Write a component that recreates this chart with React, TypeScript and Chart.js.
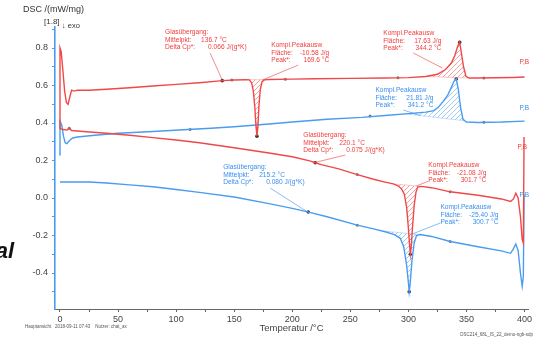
import React, { useEffect, useRef } from 'react';
import { Chart, registerables } from 'chart.js';
Chart.register(...registerables);

const RED = '#f04848';
const BLUE = '#4a9cf0';
const RED_TXT = '#f23c3c';
const BLUE_TXT = '#3a8ff0';
const FONT = '"Liberation Sans", Arial, sans-serif';

// Red curve, upper segment
const redUpperTemp = [-0.6, 0, 1, 2.5, 4, 5.5, 7, 8.5, 10, 12, 15, 25, 40, 60, 80, 100, 120, 140, 150, 160, 163, 165, 166.5, 167.8, 168.8, 169.6, 170.4, 171.3, 172.5, 174, 176, 180, 200, 220, 250, 280, 300, 315, 325, 332, 337, 340, 342.5, 344.2, 345.5, 347.5, 349.5, 352, 360, 375, 390, 400];
const redUpperDsc = [0.37, 0.80, 0.78, 0.68, 0.57, 0.51, 0.50, 0.54, 0.575, 0.57, 0.575, 0.575, 0.58, 0.588, 0.597, 0.606, 0.615, 0.626, 0.629, 0.631, 0.63, 0.615, 0.57, 0.48, 0.38, 0.33, 0.38, 0.49, 0.58, 0.62, 0.63, 0.632, 0.634, 0.636, 0.638, 0.64, 0.642, 0.648, 0.66, 0.685, 0.72, 0.76, 0.81, 0.83, 0.78, 0.70, 0.65, 0.64, 0.64, 0.641, 0.643, 0.645];

// Red curve, lower segment
const redLowerTemp = [0, 3, 6, 8, 10, 20, 40, 60, 80, 100, 120, 150, 180, 200, 215, 220, 225, 240, 256, 270, 280, 287, 291, 294, 296.5, 298.5, 300, 301, 301.7, 302.5, 303.5, 305, 306.5, 308, 311, 320, 336, 360, 380, 388, 390.5, 392.5, 394.5, 396.5, 398, 399, 399.6];
const redLowerDsc = [0.37, 0.365, 0.362, 0.372, 0.36, 0.355, 0.345, 0.335, 0.322, 0.309, 0.295, 0.268, 0.24, 0.22, 0.198, 0.188, 0.178, 0.155, 0.125, 0.1, 0.085, 0.075, 0.065, 0.05, 0.02, -0.05, -0.16, -0.25, -0.30, -0.26, -0.16, -0.04, 0.03, 0.058, 0.062, 0.055, 0.033, 0.015, -0.005, -0.018, -0.005, 0.025, 0.0, -0.1, -0.22, -0.24, 0.325];

// Blue curve, upper segment
const blueUpperTemp = [-0.8, 0, 1.5, 3, 4.5, 6, 8, 11, 15, 30, 50, 80, 110, 130, 150, 180, 200, 230, 260, 280, 300, 315, 322, 326, 330, 334, 337, 339.5, 341.2, 343, 345, 347, 350, 360, 380, 400];
const blueUpperDsc = [0.23, 0.41, 0.39, 0.33, 0.295, 0.29, 0.305, 0.32, 0.325, 0.335, 0.345, 0.355, 0.365, 0.372, 0.38, 0.395, 0.405, 0.42, 0.43, 0.44, 0.45, 0.458, 0.466, 0.485, 0.515, 0.55, 0.59, 0.625, 0.635, 0.58, 0.48, 0.42, 0.405, 0.403, 0.405, 0.41];

// Blue curve, lower segment
const blueLowerTemp = [0, 10, 25, 40, 60, 80, 100, 120, 150, 180, 200, 215, 230, 256, 270, 280, 288, 293, 296, 298.5, 300, 300.7, 301.5, 303, 305, 307, 310, 320, 336, 360, 380, 388, 390.5, 392.5, 394.5, 396.5, 398, 399, 399.6];
const blueLowerDsc = [0.085, 0.085, 0.085, 0.08, 0.07, 0.06, 0.045, 0.03, 0.005, -0.03, -0.055, -0.077, -0.1, -0.145, -0.165, -0.18, -0.195, -0.215, -0.26, -0.36, -0.45, -0.50, -0.46, -0.34, -0.24, -0.2, -0.195, -0.205, -0.232, -0.26, -0.282, -0.295, -0.27, -0.245, -0.28, -0.4, -0.47, -0.42, 0.02];

// Peak integration baselines (null = gap)
const redUpperBaseTemp = [161, 177, 250, 316, 351];
const redUpperBaseDsc = [0.631, 0.631, null, 0.648, 0.64];
const redLowerBaseTemp = [287, 311];
const redLowerBaseDsc = [0.075, 0.062];
const blueUpperBaseTemp = [296, 348];
const blueUpperBaseDsc = [0.45, 0.412];
const blueLowerBaseTemp = [276, 312];
const blueLowerBaseDsc = [-0.175, -0.196];

// Evaluation markers
const markDarkTemp = [139.7, 169.6, 344.2, 341.2, 219.8, 213.8, 301.7, 300.7];
const markDarkDsc = [0.626, 0.33, 0.83, 0.635, 0.188, -0.075, -0.30, -0.50];
const markLightTemp = [148, 194, 291, 365, 112, 267, 365, 256, 336, 256, 336, 8];
const markLightDsc = [0.629, 0.633, 0.641, 0.64, 0.366, 0.437, 0.404, 0.125, 0.033, -0.145, -0.232, 0.372];

// Axis range
const xMin = -4.3, xMax = 403;
const yMin = -0.592, yMax = 0.912;

type Ann = { color: string; t: number; v: number; lines: string[][]; glass: boolean; leader: number[][] };
const annotations: Ann[] = [
  { color: RED_TXT, t: 90.5, v: 0.885, glass: true, lines: [['Glasübergang:', ''], ['Mittelpkt:', '136.7 °C'], ['Delta Cp*:', '0.066 J/(g*K)']], leader: [[129.3, 0.773], [139.7, 0.629]] },
  { color: RED_TXT, t: 181.9, v: 0.816, glass: false, lines: [['Kompl.Peakausw', ''], ['Fläche:', '-10.58 J/g'], ['Peak*:', '169.6 °C']], leader: [[205.2, 0.709], [174.1, 0.629]] },
  { color: RED_TXT, t: 278.4, v: 0.88, glass: false, lines: [['Kompl.Peakausw', ''], ['Fläche:', '17.63 J/g'], ['Peak*:', '344.2 °C']], leader: [[304.3, 0.773], [329.3, 0.693]] },
  { color: BLUE_TXT, t: 271.6, v: 0.576, glass: false, lines: [['Kompl.Peakausw', ''], ['Fläche:', '21.81 J/g'], ['Peak*:', '341.2 °C']], leader: [[295.7, 0.469], [310.3, 0.44]] },
  { color: RED_TXT, t: 209.5, v: 0.336, glass: true, lines: [['Glasübergang:', ''], ['Mittelpkt:', '220.1 °C'], ['Delta Cp*:', '0.075 J/(g*K)']], leader: [[245.7, 0.229], [219.8, 0.19]] },
  { color: BLUE_TXT, t: 140.5, v: 0.165, glass: true, lines: [['Glasübergang:', ''], ['Mittelpkt:', '215.2 °C'], ['Delta Cp*:', '0.080 J/(g*K)']], leader: [[181, 0.053], [213.8, -0.077]] },
  { color: RED_TXT, t: 317.2, v: 0.176, glass: false, lines: [['Kompl.Peakausw', ''], ['Fläche:', '-21.08 J/g'], ['Peak*:', '301.7 °C']], leader: [[317.2, 0.09], [306.9, 0.064]] },
  { color: BLUE_TXT, t: 327.6, v: -0.048, glass: false, lines: [['Kompl.Peakausw', ''], ['Fläche:', '-25.40 J/g'], ['Peak*:', '300.7 °C']], leader: [[327.6, -0.133], [303.4, -0.192]] },
];

const segLabels = [
  { color: RED_TXT, t: 395.7, v: 0.725, text: 'P,B' },
  { color: BLUE_TXT, t: 395.7, v: 0.48, text: 'P,B' },
  { color: RED_TXT, t: 394, v: 0.272, text: 'P,B' },
  { color: BLUE_TXT, t: 395.7, v: 0.016, text: 'P,B' },
];

const pts = (xs: number[], ys: (number | null)[]) => xs.map((x, i) => ({ x, y: ys[i] }));

function hatch(color: string) {
  const c = document.createElement('canvas');
  c.width = 5; c.height = 5;
  const g = c.getContext('2d')!;
  g.strokeStyle = color; g.lineWidth = 0.7;
  g.beginPath();
  g.moveTo(0, 5); g.lineTo(5, 0);
  g.moveTo(-1, 1); g.lineTo(1, -1);
  g.moveTo(4, 6); g.lineTo(6, 4);
  g.stroke();
  return g.createPattern(c, 'repeat')!;
}

const overlay = {
  id: 'overlay',
  afterDraw(chart: any) {
    const { ctx } = chart;
    const x = chart.scales.x, y = chart.scales.y;
    ctx.save();
    for (const a of annotations) {
      const px = x.getPixelForValue(a.t), py = y.getPixelForValue(a.v);
      ctx.fillStyle = a.color;
      ctx.font = `6.6px ${FONT}`;
      ctx.textBaseline = 'middle';
      a.lines.forEach(([lab, val], i) => {
        const ly = py + i * 7.8;
        ctx.textAlign = 'left';
        ctx.fillText(lab, px, ly);
        if (val) {
          if (a.glass) {
            ctx.fillText(val, px + (i === 1 ? 36 : 43), ly);
          } else {
            ctx.textAlign = 'right';
            ctx.fillText(val, px + 58, ly);
          }
        }
      });
      ctx.strokeStyle = a.color;
      ctx.lineWidth = 0.6;
      ctx.beginPath();
      ctx.moveTo(x.getPixelForValue(a.leader[0][0]), y.getPixelForValue(a.leader[0][1]));
      ctx.lineTo(x.getPixelForValue(a.leader[1][0]), y.getPixelForValue(a.leader[1][1]));
      ctx.stroke();
    }
    for (const s of segLabels) {
      ctx.fillStyle = s.color;
      ctx.font = `6.5px ${FONT}`;
      ctx.textAlign = 'left';
      ctx.textBaseline = 'middle';
      ctx.fillText(s.text, x.getPixelForValue(s.t), y.getPixelForValue(s.v));
    }
    // y-axis title
    ctx.fillStyle = '#333';
    ctx.textAlign = 'left';
    ctx.textBaseline = 'middle';
    ctx.font = `9px ${FONT}`;
    ctx.fillText('DSC /(mW/mg)', 23, 10);
    ctx.font = `8px ${FONT}`;
    ctx.fillText('[1.8]', 44, 22);
    ctx.font = `7.5px ${FONT}`;
    ctx.fillText('↓ exo', 62, 26);
    // footers
    ctx.fillStyle = '#555';
    ctx.font = `4.5px ${FONT}`;
    ctx.fillText('Hauptansicht   2018-09-11 07:43    Nutzer: chat_ax', 25, 327);
    ctx.textAlign = 'right';
    ctx.fillText('DSC214_68L_IS_22_demo-ngb-sdp', 533, 335);
    // stray text at left edge
    ctx.fillStyle = '#111';
    ctx.font = `italic bold 22px ${FONT}`;
    ctx.textBaseline = 'alphabetic';
    ctx.textAlign = 'right';
    ctx.fillText('al', 14, 258);
    ctx.restore();
  },
};

export default function App() {
  const ref = useRef<HTMLCanvasElement>(null);
  useEffect(() => {
    const redH = hatch('rgba(240,72,72,0.75)');
    const blueH = hatch('rgba(74,156,240,0.75)');
    const line = (data: any, color: string, fill: any, bg: any) => ({
      data, borderColor: color, borderWidth: 1.4, pointRadius: 0, tension: 0,
      fill, backgroundColor: bg,
    });
    const base = (data: any, color: string) => ({
      data, borderColor: color, borderWidth: 0.5, pointRadius: 0, tension: 0, fill: false, spanGaps: false,
    });
    const chart = new Chart(ref.current!, {
      type: 'line',
      data: {
        datasets: [
          line(pts(redUpperTemp, redUpperDsc), RED, { target: 4 }, redH),
          line(pts(redLowerTemp, redLowerDsc), RED, { target: 5 }, redH),
          line(pts(blueUpperTemp, blueUpperDsc), BLUE, { target: 6 }, blueH),
          line(pts(blueLowerTemp, blueLowerDsc), BLUE, { target: 7 }, blueH),
          base(pts(redUpperBaseTemp, redUpperBaseDsc), 'rgba(240,72,72,0.6)'),
          base(pts(redLowerBaseTemp, redLowerBaseDsc), 'rgba(240,72,72,0.6)'),
          base(pts(blueUpperBaseTemp, blueUpperBaseDsc), 'rgba(74,156,240,0.6)'),
          base(pts(blueLowerBaseTemp, blueLowerBaseDsc), 'rgba(74,156,240,0.6)'),
          { data: pts(markDarkTemp, markDarkDsc), showLine: false, pointRadius: 1.8, pointBackgroundColor: '#333', pointBorderWidth: 0 } as any,
          { data: pts(markLightTemp, markLightDsc), showLine: false, pointRadius: 1.5, pointBackgroundColor: '#777', pointBorderWidth: 0 } as any,
        ] as any,
      },
      options: {
        animation: false,
        responsive: false,
        devicePixelRatio: 1,
        layout: { padding: { left: 0, top: 27, right: 16, bottom: 0 } },
        plugins: { legend: { display: false }, tooltip: { enabled: false } },
        scales: {
          x: {
            type: 'linear', min: xMin, max: xMax,
            border: { color: '#666', width: 1 },
            grid: { display: true, drawOnChartArea: false, tickLength: 3, color: '#666' },
            ticks: {
              stepSize: 25, includeBounds: false, autoSkip: false, maxRotation: 0, padding: 2,
              color: '#444', font: { size: 9, family: FONT },
              callback: (v: any) => (Math.round(v) % 50 === 0 ? String(Math.round(v)) : ''),
            },
            title: { display: true, text: 'Temperatur /°C', color: '#444', font: { size: 9.5, family: FONT }, padding: { top: 0, bottom: 6 } },
            afterFit: (s: any) => { s.height = 31; },
          },
          y: {
            type: 'linear', min: yMin, max: yMax,
            border: { color: BLUE, width: 1.6 },
            grid: { display: true, drawOnChartArea: false, tickLength: 3, color: BLUE },
            ticks: {
              stepSize: 0.1, includeBounds: false, autoSkip: false, padding: 4,
              color: '#444', font: { size: 9, family: FONT },
              callback: (v: any) => {
                const r = Math.round(v * 10);
                return r % 2 === 0 ? (r / 10).toFixed(1) : '';
              },
            },
            afterFit: (s: any) => { s.width = 55; },
          },
        },
      } as any,
      plugins: [overlay],
    });
    return () => chart.destroy();
  }, []);
  return (
    <div style={{ position: 'absolute', left: 0, top: 0, width: 544, height: 340, background: '#fff' }}>
      <canvas ref={ref} width={544} height={340} style={{ display: 'block' }} />
    </div>
  );
}
